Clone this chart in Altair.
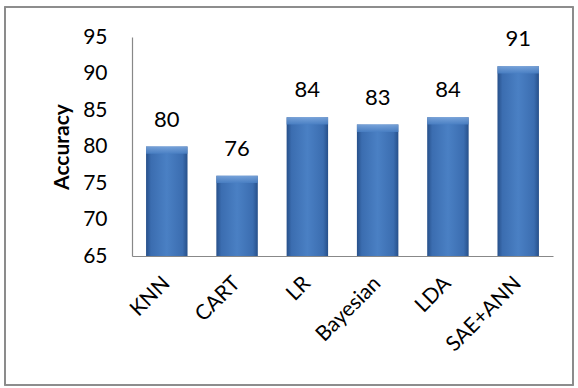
import altair as alt
import pandas as pd

methods = ["KNN", "CART", "LR", "Bayesian", "LDA", "SAE+ANN"]
accuracy = [80, 76, 84, 83, 84, 91]
y_ticks = [65, 70, 75, 80, 85, 90, 95]

df = pd.DataFrame({"method": methods, "accuracy": accuracy})

FONT = "Lato"

x_enc = alt.X("method:N", sort=methods, title=None,
              scale=alt.Scale(paddingInner=0.41, paddingOuter=0.2),
              axis=alt.Axis(labelAngle=-45, labelAlign="right", labelBaseline="middle",
                            labelFontSize=21, labelFont=FONT, labelColor="black",
                            labelPadding=24, ticks=False, domainColor="#888888",
                            domainWidth=1.2, labelOverlap=False))
y_enc = alt.Y("accuracy:Q", title="Accuracy",
              scale=alt.Scale(domain=[65, 95], nice=False, zero=False),
              axis=alt.Axis(values=y_ticks, grid=False, ticks=False,
                            labelFontSize=21, labelFont=FONT, labelColor="black",
                            labelPadding=25, domainColor="#888888", domainWidth=1.2,
                            labelOverlap=False, labelBound=False, labelFlush=False,
                            titleFontSize=21, titleFont=FONT, titleFontWeight="bold",
                            titleColor="black", titlePadding=10))

bar_grad = alt.Gradient(
    gradient="linear", x1=0, y1=0, x2=1, y2=0,
    stops=[alt.GradientStop(color="#27508A", offset=0),
           alt.GradientStop(color="#3B6DB0", offset=0.12),
           alt.GradientStop(color="#4A80C4", offset=0.5),
           alt.GradientStop(color="#3B6DB0", offset=0.88),
           alt.GradientStop(color="#27508A", offset=1)])

bars = alt.Chart(df).mark_bar(color=bar_grad, clip=False).encode(
    x=x_enc, y=y_enc, y2=alt.datum(65))

top_grad = alt.Gradient(
    gradient="linear", x1=0, y1=0, x2=0, y2=1,
    stops=[alt.GradientStop(color="#7FA9DE", offset=0),
           alt.GradientStop(color="#4A80C4", offset=1)])

bevel = alt.Chart(df).transform_calculate(
    top2="datum.accuracy - 1.0"
).mark_bar(color=top_grad, opacity=0.85).encode(
    x=x_enc, y=y_enc, y2="top2:Q")

labels = alt.Chart(df).mark_text(dy=-27, fontSize=22, font=FONT, color="black",
                                 baseline="middle").encode(
    x=x_enc, y=y_enc, text="accuracy:Q")

border = alt.Chart(df).mark_rect(fill=None, stroke="#8C8C8C", strokeWidth=1.2,
                                 clip=False).encode(
    x=alt.value(-127), x2=alt.value(441), y=alt.value(-30), y2=alt.value(348))

chart = alt.layer(border, bars, bevel, labels).properties(
    width=421, height=219,
    autosize=alt.AutoSizeParams(type="none"),
    padding={"left": 132, "top": 37, "right": 25, "bottom": 132},
    background="white"
).configure_view(stroke=None)

chart.save("out.html", embed_options={"renderer": "svg", "actions": False})
